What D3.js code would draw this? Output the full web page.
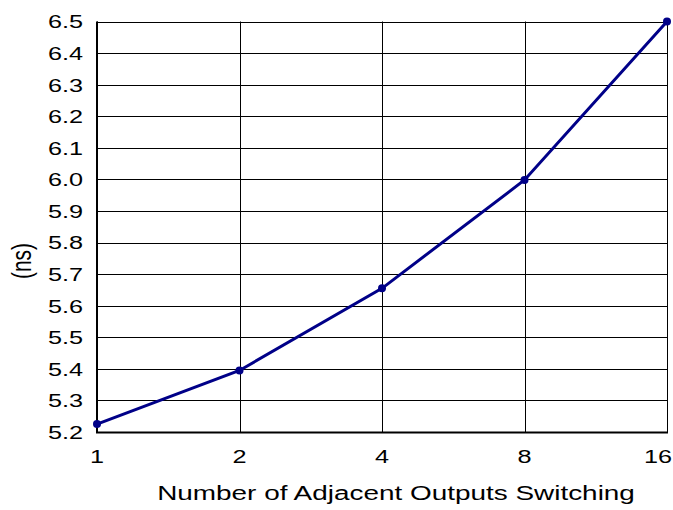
<!DOCTYPE html>
<html>
<head>
<meta charset="utf-8">
<script src="https://cdn.jsdelivr.net/npm/d3@7"></script>
<style>
  body { margin: 0; background: #fff; }
  svg { font-family: "Liberation Sans", Arial, sans-serif; }
</style>
</head>
<body>
<div id="chart"></div>
<script>
const categories = ["1", "2", "4", "8", "16"];
const values = [5.225, 5.395, 5.655, 5.998, 6.5];
const yTicks = [5.2, 5.3, 5.4, 5.5, 5.6, 5.7, 5.8, 5.9, 6.0, 6.1, 6.2, 6.3, 6.4, 6.5];

const width = 673, height = 510;
const margin = {top: 21.5, right: 6, bottom: 78, left: 97};
// the original text looks stretched sideways
const stretch = 1.33;

const svg = d3.select("#chart").append("svg")
    .attr("width", width)
    .attr("height", height);

const x = d3.scalePoint()
    .domain(categories)
    .range([margin.left, width - margin.right]);

const y = d3.scaleLinear()
    .domain([5.2, 6.5])
    .range([height - margin.bottom, margin.top]);

// horizontal grid
svg.append("g")
    .selectAll("line")
    .data(yTicks)
    .join("line")
    .attr("x1", margin.left)
    .attr("x2", width - margin.right)
    .attr("y1", d => Math.round(y(d)) + 0.5)
    .attr("y2", d => Math.round(y(d)) + 0.5)
    .attr("stroke", "#000")
    .attr("stroke-width", 1);

// vertical grid
svg.append("g")
    .selectAll("line")
    .data(categories)
    .join("line")
    .attr("x1", d => Math.round(x(d)) + 0.5)
    .attr("x2", d => Math.round(x(d)) + 0.5)
    .attr("y1", margin.top)
    .attr("y2", height - margin.bottom)
    .attr("stroke", "#000")
    .attr("stroke-width", 1);

// axis lines
svg.append("line")
    .attr("x1", margin.left).attr("x2", margin.left)
    .attr("y1", margin.top).attr("y2", height - margin.bottom + 1)
    .attr("stroke", "#000").attr("stroke-width", 2);
svg.append("line")
    .attr("x1", margin.left - 1).attr("x2", width - margin.right + 1)
    .attr("y1", height - margin.bottom + 0.5).attr("y2", height - margin.bottom + 0.5)
    .attr("stroke", "#000").attr("stroke-width", 2);

// y tick labels
svg.append("g")
    .selectAll("text")
    .data(yTicks)
    .join("text")
    .attr("transform", d => `translate(83,${y(d)}) scale(${stretch},1)`)
    .attr("dy", "0.36em")
    .attr("text-anchor", "end")
    .attr("font-size", 19)
    .text(d => d.toFixed(1));

// x tick labels (last one kept inside the page)
svg.append("g")
    .selectAll("text")
    .data(categories)
    .join("text")
    .attr("transform", (d, i) => i === categories.length - 1
        ? `translate(672,463) scale(${stretch},1)`
        : `translate(${x(d)},463) scale(${stretch},1)`)
    .attr("text-anchor", (d, i) => i === categories.length - 1 ? "end" : "middle")
    .attr("font-size", 19)
    .text(d => d);

// line
const line = d3.line()
    .x((d, i) => x(categories[i]))
    .y(d => y(d));

svg.append("path")
    .datum(values)
    .attr("d", line)
    .attr("fill", "none")
    .attr("stroke", "#000088")
    .attr("stroke-width", 3);

svg.append("g")
    .selectAll("circle")
    .data(values)
    .join("circle")
    .attr("cx", (d, i) => x(categories[i]))
    .attr("cy", d => y(d))
    .attr("r", 4)
    .attr("fill", "#000088");

// axis titles
svg.append("text")
    .attr("transform", `translate(396,500) scale(${stretch},1)`)
    .attr("text-anchor", "middle")
    .attr("font-size", 21)
    .text("Number of Adjacent Outputs Switching");

svg.append("text")
    .attr("transform", `translate(31,261) scale(${stretch},1) rotate(-90)`)
    .attr("text-anchor", "middle")
    .attr("font-size", 21)
    .text("(ns)");
</script>
</body>
</html>
